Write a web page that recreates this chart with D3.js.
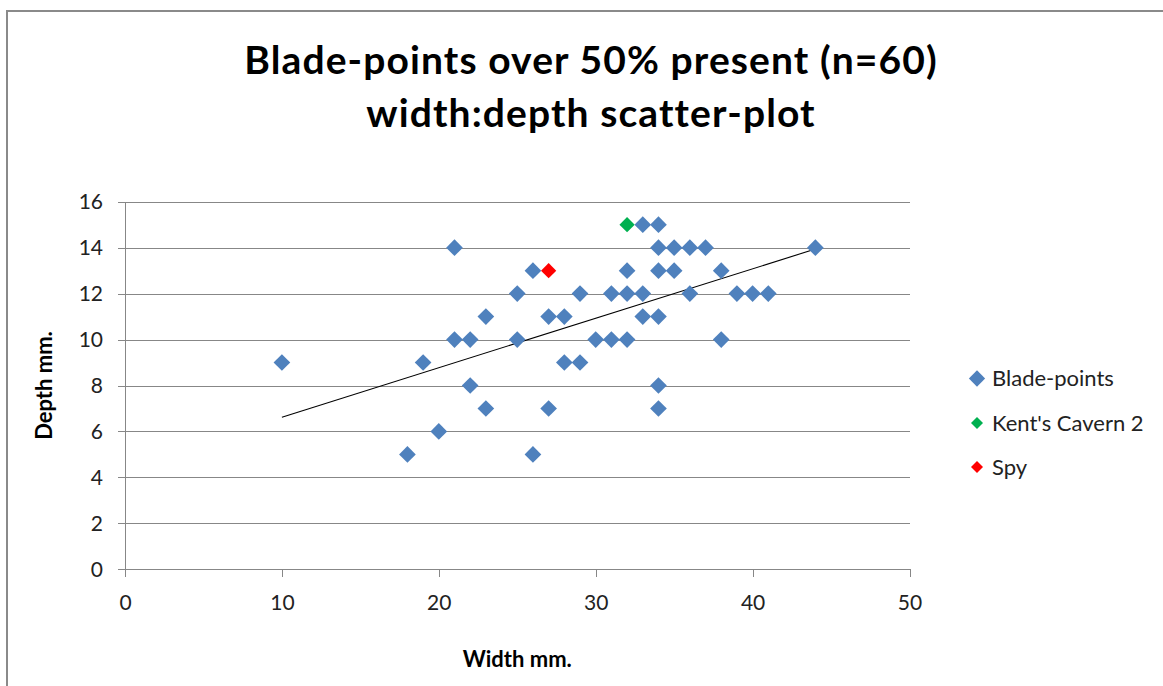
<!DOCTYPE html>
<html>
<head>
<meta charset="utf-8">
<script src="https://cdn.jsdelivr.net/npm/d3@7"></script>
<style>
  html, body { margin: 0; padding: 0; background: #fff; }
  svg { display: block; font-family: Lato, "Open Sans", sans-serif; }
</style>
</head>
<body>
<svg id="chart" width="1163" height="686"></svg>
<script>
// Blade-points: width (mm) and depth (mm)
const bladeWidth = [10, 21, 26, 25, 29, 23, 27, 28, 21, 22, 25, 19, 28, 29, 22, 23, 27, 20, 18, 26,
                    33, 34, 34, 35, 36, 37, 44, 32, 34, 35, 38, 31, 32, 33, 36, 39, 40, 41, 33, 34,
                    30, 31, 32, 38, 34, 34];
const bladeDepth = [9, 14, 13, 12, 12, 11, 11, 11, 10, 10, 10, 9, 9, 9, 8, 7, 7, 6, 5, 5,
                    15, 15, 14, 14, 14, 14, 14, 13, 13, 13, 13, 12, 12, 12, 12, 12, 12, 12, 11, 11,
                    10, 10, 10, 10, 8, 7];
// Single highlighted finds
const kentsWidth = [32];
const kentsDepth = [15];
const spyWidth = [27];
const spyDepth = [13];
// Linear trend line through the blade-points (end points)
const trendWidth = [10, 44];
const trendDepth = [6.62, 13.94];

const xTicks = [0, 10, 20, 30, 40, 50];
const yTicks = [0, 2, 4, 6, 8, 10, 12, 14, 16];

const titleLines = ["Blade-points over 50% present (n=60)", "width:depth scatter-plot"];
const legendLabels = ["Blade-points", "Kent's Cavern 2", "Spy"];
const seriesColors = ["#4F81BD", "#00B050", "#FF0000"];

const svg = d3.select("#chart");
const gridColor = "#878787";

// outer chart frame
svg.append("rect")
  .attr("x", 7).attr("y", 11)
  .attr("width", 1200).attr("height", 700)
  .attr("fill", "#fff")
  .attr("stroke", "#8a8a8a").attr("stroke-width", 2);

const plot = { left: 125, right: 909.5, top: 201.7, bottom: 569.3 };
const x = d3.scaleLinear().domain([0, 50]).range([plot.left, plot.right]);
const y = d3.scaleLinear().domain([0, 16]).range([plot.bottom, plot.top]);

// horizontal gridlines (with outside tick stubs)
svg.append("g")
  .attr("transform", `translate(${plot.left},0)`)
  .call(d3.axisLeft(y).tickValues(yTicks).tickSize(-(plot.right - plot.left)).tickFormat(""))
  .call(g => g.select(".domain").remove())
  .call(g => g.selectAll(".tick line").attr("stroke", gridColor).attr("x1", -7).attr("shape-rendering", "crispEdges"));

// y axis
const yAxis = svg.append("g")
  .attr("transform", `translate(${plot.left},0)`)
  .call(d3.axisLeft(y).tickValues(yTicks).tickSize(0).tickPadding(22).tickFormat(d3.format("d")));
yAxis.select(".domain").remove();
yAxis.selectAll("text").attr("font-size", 21).attr("fill", "#222").attr("font-family", "Lato");
svg.append("line")
  .attr("x1", plot.left).attr("x2", plot.left)
  .attr("y1", plot.top).attr("y2", plot.bottom + 7.5)
  .attr("stroke", gridColor).attr("shape-rendering", "crispEdges");

// x axis
const xAxis = svg.append("g")
  .attr("transform", `translate(0,${plot.bottom})`)
  .call(d3.axisBottom(x).tickValues(xTicks).tickSize(7.5).tickPadding(18).tickFormat(d3.format("d")));
xAxis.select(".domain").attr("stroke", gridColor).attr("d", `M${plot.left},0H${plot.right}`).attr("shape-rendering", "crispEdges");
xAxis.selectAll(".tick line").attr("stroke", gridColor).attr("shape-rendering", "crispEdges");
xAxis.selectAll("text").attr("font-size", 21).attr("fill", "#222").attr("font-family", "Lato");

// axis titles
svg.append("text")
  .attr("x", (plot.left + plot.right) / 2).attr("y", 667)
  .attr("text-anchor", "middle")
  .attr("font-weight", "bold").attr("font-size", 22)
  .text("Width mm.");
svg.append("text")
  .attr("transform", `translate(52,${(plot.top + plot.bottom) / 2}) rotate(-90)`)
  .attr("text-anchor", "middle")
  .attr("font-weight", "bold").attr("font-size", 22)
  .text("Depth mm.");

// title
const titleBaselines = [74, 127];
titleLines.forEach((t, i) => {
  svg.append("text")
    .attr("x", 591).attr("y", titleBaselines[i])
    .attr("text-anchor", "middle")
    .attr("font-weight", "bold").attr("font-size", 39)
    .attr("letter-spacing", 1.1)
    .text(t);
});

// trend line
svg.append("path")
  .datum(trendWidth.map((w, i) => [w, trendDepth[i]]))
  .attr("d", d3.line().x(d => x(d[0])).y(d => y(d[1])))
  .attr("stroke", "#000").attr("stroke-width", 1.1).attr("fill", "none");

// diamond marker shape
const diamond = side => d3.symbol(d3.symbolSquare, side * side)();

function drawSeries(ws, ds, color, side) {
  svg.append("g").selectAll("path")
    .data(ws.map((w, i) => [w, ds[i]]))
    .join("path")
    .attr("d", diamond(side))
    .attr("transform", d => `translate(${x(d[0])},${y(d[1])}) rotate(45)`)
    .attr("fill", color);
}
drawSeries(bladeWidth, bladeDepth, seriesColors[0], 11.8);
drawSeries(kentsWidth, kentsDepth, seriesColors[1], 10.8);
drawSeries(spyWidth, spyDepth, seriesColors[2], 10.8);

// legend
const legendY = [378.5, 423, 467];
const markerSides = [11.5, 8.5, 8.5];
legendLabels.forEach((lab, i) => {
  svg.append("path")
    .attr("d", diamond(markerSides[i]))
    .attr("transform", `translate(977,${legendY[i]}) rotate(45)`)
    .attr("fill", seriesColors[i]);
  svg.append("text")
    .attr("x", 992).attr("y", legendY[i])
    .attr("dy", "0.36em")
    .attr("font-size", 22).attr("fill", "#222")
    .text(lab);
});
</script>
</body>
</html>
